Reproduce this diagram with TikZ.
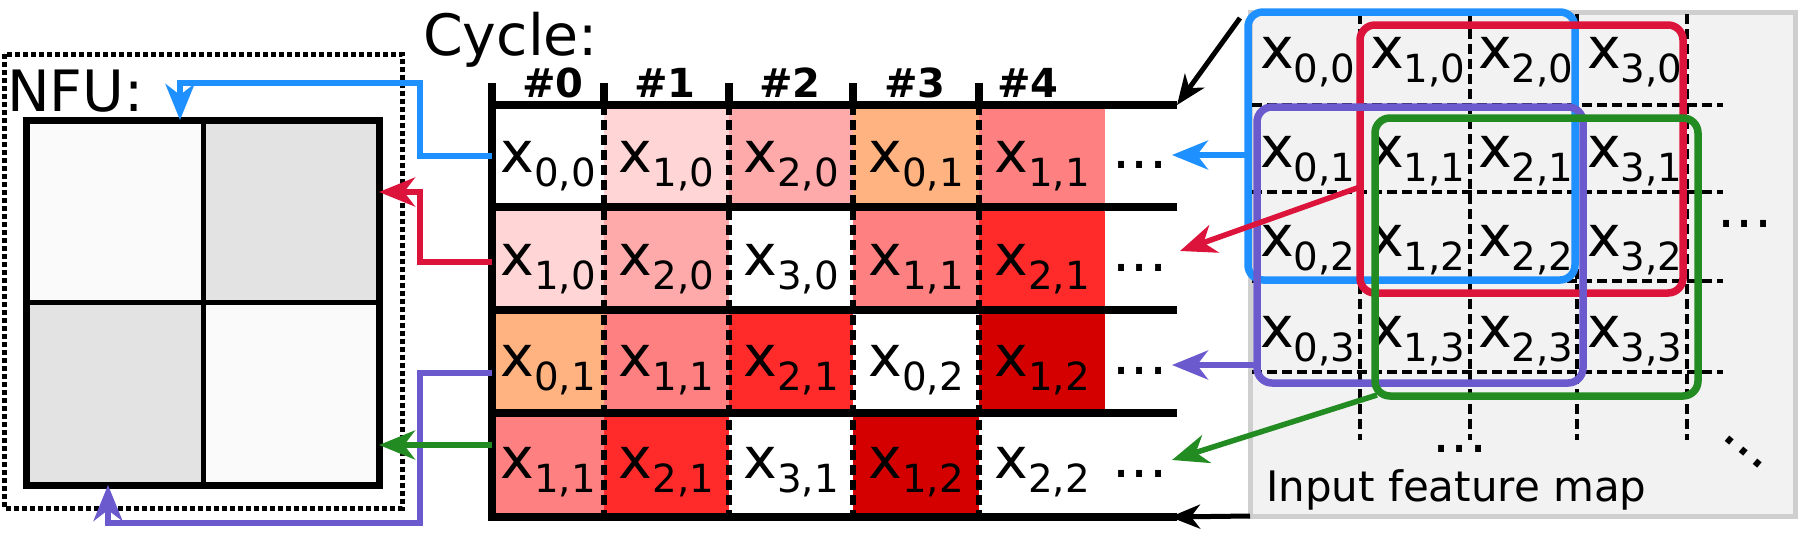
\documentclass[tikz,border=0pt]{standalone}
\usepackage{fontspec}
\setmainfont{DejaVu Sans}
\usepackage{graphicx}
\usetikzlibrary{arrows.meta}

\definecolor{cellA}{HTML}{FFD5D5}
\definecolor{cellB}{HTML}{FFAAAA}
\definecolor{cellC}{HTML}{FF8080}
\definecolor{cellD}{HTML}{FF2A2A}
\definecolor{cellE}{HTML}{D40000}
\definecolor{cellO}{HTML}{FFB380}
\definecolor{winblue}{HTML}{1E90FF}
\definecolor{winred}{HTML}{DC143C}
\definecolor{winpurple}{HTML}{6A5ACD}
\definecolor{wingreen}{HTML}{228B22}
\definecolor{mapgray}{HTML}{F2F2F2}
\definecolor{mapborder}{HTML}{CFCFCF}
\definecolor{pelight}{HTML}{FAFAFA}
\definecolor{pedark}{HTML}{E3E3E3}

\newcommand{\xsub}[1]{x\raisebox{-0.25em}{\scalebox{0.68}{#1}}}

\tikzset{
  big/.style={font=\fontsize{57}{60}\selectfont, inner sep=0pt, anchor=base west},
  lbl/.style={font=\fontsize{57}{60}\selectfont, inner sep=0pt, anchor=base},
  head/.style={font=\fontsize{40}{44}\selectfont\bfseries, inner sep=0pt, anchor=base},
  wire/.style={line width=5.5pt, -{Stealth[length=36pt,width=29pt,inset=11pt]}},
  blackwire/.style={line width=5pt, -{Stealth[length=30pt,width=24pt,inset=9pt]}},
  win/.style={line width=7.5pt, rounded corners=15pt},
  tabline/.style={line width=8pt},
  coldash/.style={line width=6.5pt, dash pattern=on 10pt off 5pt},
  mapdash/.style={line width=4.5pt, dash pattern=on 10pt off 5pt},
}

\begin{document}
\begin{tikzpicture}[x=1pt, y=-1pt]
  \useasboundingbox (0,0) rectangle (1800,536);

  % NFU with its 2x2 PEs
  \draw[line width=5pt, dash pattern=on 5pt off 3pt] (4,54) rectangle (402,508);
  \node[big] (nfulabel) at (7,111) {NFU:};
  \fill[pelight] (26,120) rectangle (203,302);
  \fill[pedark] (203,120) rectangle (379,302);
  \fill[pedark] (26,302) rectangle (203,485);
  \fill[pelight] (203,302) rectangle (379,485);
  \draw[line width=5pt] (203,120) -- (203,485) (26,302) -- (379,302);
  \draw[line width=7pt] (26,120) rectangle (379,485);
  \coordinate (pe-top) at (180,120);
  \coordinate (pe-right1) at (379,192);
  \coordinate (pe-right2) at (379,445);
  \coordinate (pe-bottom) at (108,485);

  % Schedule table
  \node[big] (cyclelabel) at (423,55) {Cycle:};
  \foreach \x/\n in {553/0, 665/1, 790/2, 915/3, 1028/4}
    \node[head] (cyc\n) at (\x,97) {\#\n};

  \foreach \k/\l/\r/\col/\a/\b in {0/492/604/white/0/0, 1/604/729/cellA/1/0, 2/729/853/cellB/2/0, 3/853/979/cellO/0/1, 4/979/1105/cellC/1/1}{
    \fill[\col] (\l,105) rectangle (\r,207);
    \node[lbl] (ra\k) at ({(\l+\r)/2},172) {\xsub{\a,\b}};
  }
  \foreach \k/\l/\r/\col/\a/\b in {0/492/604/cellA/1/0, 1/604/729/cellB/2/0, 2/729/853/white/3/0, 3/853/979/cellC/1/1, 4/979/1105/cellD/2/1}{
    \fill[\col] (\l,207) rectangle (\r,310);
    \node[lbl] (rb\k) at ({(\l+\r)/2},275) {\xsub{\a,\b}};
  }
  \foreach \k/\l/\r/\col/\a/\b in {0/492/604/cellO/0/1, 1/604/729/cellC/1/1, 2/729/853/cellD/2/1, 3/853/979/white/0/2, 4/979/1105/cellE/1/2}{
    \fill[\col] (\l,310) rectangle (\r,413);
    \node[lbl] (rc\k) at ({(\l+\r)/2},376) {\xsub{\a,\b}};
  }
  \foreach \k/\l/\r/\col/\a/\b in {0/492/604/cellC/1/1, 1/604/729/cellD/2/1, 2/729/853/white/3/1, 3/853/979/cellE/1/2, 4/979/1105/white/2/2}{
    \fill[\col] (\l,413) rectangle (\r,517);
    \node[lbl] (rd\k) at ({(\l+\r)/2},478) {\xsub{\a,\b}};
  }
  \foreach \y/\n in {168/a, 271/b, 374/c, 477/d}
    \node[lbl] (dots\n) at (1140,\y) {...};

  \foreach \y in {105,207,310,413,517}
    \draw[tabline] (488,\y) -- (1177,\y);
  \draw[tabline] (492,83) -- (492,521);
  \foreach \x in {604,729,853,979}{
    \draw[tabline] (\x,83) -- (\x,105);
    \draw[coldash] (\x,105) -- (\x,517);
  }
  \coordinate (rowa-start) at (492,156);
  \coordinate (rowb-start) at (492,262);
  \coordinate (rowc-start) at (492,373);
  \coordinate (rowd-start) at (492,445);
  \coordinate (rowa-end) at (1172,155);
  \coordinate (rowb-end) at (1180,251);
  \coordinate (rowc-end) at (1172,365);
  \coordinate (rowd-end) at (1172,460);
  \coordinate (tab-top) at (1177,105);
  \coordinate (tab-bottom) at (1170,517);

  % Input feature map
  \draw[mapborder, fill=mapgray, line width=5pt] (1250,12) rectangle (1795,516);
  \foreach \x in {1360,1470,1577,1687}
    \draw[mapdash] (\x,14) -- (\x,440);
  \foreach \y in {105,192,281,372}
    \draw[mapdash] (1252,\y) -- (1723,\y);
  \foreach \i/\x in {0/1260, 1/1370, 2/1478, 3/1587}
    \foreach \j/\y in {0/68, 1/167, 2/256, 3/347}
      \node[lbl, anchor=base west] (m\i\j) at (\x,\y) {\xsub{\i,\j}};
  \node[lbl] (mapdotsr) at (1745,227) {...};
  \node[lbl] (mapdotsb) at (1460,452) {...};
  \node[lbl, anchor=center, rotate=-40] (mapdotsd) at (1744,452) {...};
  \node[font=\fontsize{42}{46}\selectfont, inner sep=0pt, anchor=base west] (mapname) at (1266,501) {Input feature map};
  \coordinate (map-topleft) at (1240,18);
  \coordinate (map-bottomleft) at (1250,516);

  % Sliding windows
  \draw[win, winblue] (1248,12) rectangle (1575,280);
  \draw[win, winred] (1360,25) rectangle (1683,293);
  \draw[win, winpurple] (1257,107) rectangle (1583,383);
  \draw[win, wingreen] (1375,118) rectangle (1698,396);
  \coordinate (winb-out) at (1248,155);
  \coordinate (winr-out) at (1360,187);
  \coordinate (winp-out) at (1257,365);
  \coordinate (wing-out) at (1377,395);

  % Windows into the schedule
  \draw[blackwire] (map-topleft) -- (tab-top);
  \draw[blackwire] (map-bottomleft) -- (tab-bottom);
  \draw[wire, winblue] (winb-out) -- (rowa-end);
  \draw[wire, winred] (winr-out) -- (rowb-end);
  \draw[wire, winpurple] (winp-out) -- (rowc-end);
  \draw[wire, wingreen] (wing-out) -- (rowd-end);

  % Schedule into the NFU
  \draw[wire, winblue] (rowa-start) -- ++(-72,0) -- ++(0,-73) -| (pe-top);
  \draw[wire, winred] (rowb-start) -- ++(-72,0) |- (pe-right1);
  \draw[wire, winpurple] (rowc-start) -- ++(-72,0) -- ++(0,150) -| (pe-bottom);
  \draw[wire, wingreen] (rowd-start) -- (pe-right2);
\end{tikzpicture}
\end{document}
